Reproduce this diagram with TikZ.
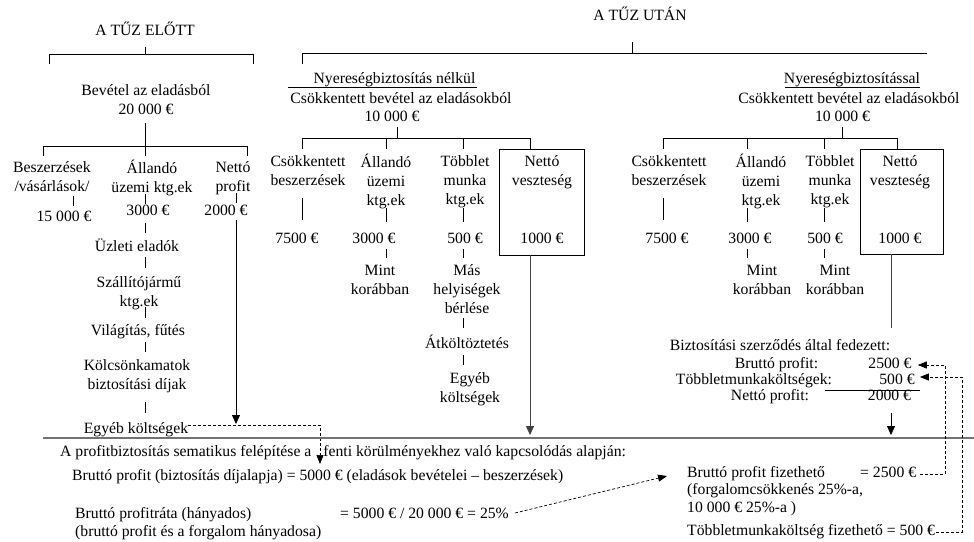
\documentclass[tikz,border=0pt]{standalone}
\usepackage{fontspec}
\setmainfont{Liberation Serif}
\usetikzlibrary{arrows.meta}
\begin{document}
\begin{tikzpicture}[x=1pt,y=-1pt,
  txt/.style={inner sep=0pt, font=\fontsize{15.7}{19}\selectfont, align=center, execute at begin node=\strut, execute at end node=\strut},
  ln/.style={line width=0.7pt},
  arr/.style={line width=0.8pt, -{Triangle[length=9pt,width=8pt]}},
  dsh/.style={line width=0.7pt, dash pattern=on 3pt off 2pt},
  dsharr/.style={dsh, -{Triangle[length=9pt,width=7pt]}},
  boxx/.style={draw, line width=0.8pt, inner sep=0pt},
  sep/.style={line width=1.6pt, black!55}
]
\useasboundingbox (0,0) rectangle (974,541);
\coordinate (xm) at (530,0);
\coordinate (xr) at (891,0);
% headings
\node[txt] (elott) at (145,32) {A TŰZ ELŐTT};
\node[txt] (utan) at (640,17) {A TŰZ UTÁN};
\draw[ln] (49,64) -- (49,54) -- (253,54) -- (253,64);
\draw[ln] (145,47) -- (145,54);
\draw[ln] (302,64) -- (302,53) -- (927,53);
\draw[ln] (632,42) -- (632,53);
% left section
\node[txt] (bev) at (146,102.5) {Bevétel az eladásból\\20~000~€};
\draw[ln] (145,123) -- (145,146);
\draw[ln] (43,156) -- (43,146) -- (247,146) -- (247,156);
\draw[ln] (145,146) -- (145,156);
\node[txt] (besz) at (52,179.5) {Beszerzések\\/vásárlások/};
\node[txt] (allu) at (152,179.5) {Állandó\\üzemi ktg.ek};
\node[txt] (netp) at (233,179.5) {Nettó\\profit};
\draw[ln] (73,196) -- (73,206);
\node[txt] (v15) at (64,218) {15~000~€};
\draw[ln] (145,194) -- (145,204);
\node[txt] (v3a) at (148,212) {3000~€};
\draw[ln] (236,193) -- (236,203);
\node[txt] (v2a) at (226,212) {2000~€};
\draw[ln] (145,223) -- (145,233);
\node[txt] (uzl) at (137,248) {Üzleti eladók};
\draw[ln] (145,257) -- (145,268);
\node[txt] (szal) at (139,294) {Szállítójármű\\ktg.ek};
\draw[ln] (145,307) -- (145,318);
\node[txt] (vil) at (138,332) {Világítás, fűtés};
\draw[ln] (145,342) -- (145,352);
\node[txt] (kolcs) at (137,377.5) {Kölcsönkamatok\\biztosítási díjak};
\draw[ln] (145,402) -- (145,413);
\node[txt] (egy1) at (136,430) {Egyéb költségek};
\draw[arr] (236,220) -- (236,424);
\draw[dsharr] ([yshift=5pt]egy1.east) -- (320,425) -- (320,464);
% separator
\draw[sep] (43,438) -- (974,438);
% middle section
\node[txt] (m0) at (394.5,80) {Nyereségbiztosítás nélkül};
\draw[ln] (288,87) -- (477,87);
\node[txt] (m1) at (401,100) {Csökkentett bevétel az eladásokból};
\node[txt] (m2) at (392,118) {10~000~€};
\draw[ln] (397,127) -- (397,138);
\draw[ln] (302,149) -- (302,138) -- (530,138) -- (530,149);
\draw[ln] (386,138) -- (386,149);
\draw[ln] (463,138) -- (463,149);
\node[boxx, minimum width=85pt, minimum height=106pt] (mbox) at (541.5,202) {};
\node[txt] (mnv) at (542,173) {Nettó\\veszteség};
\node[txt] (m1000) at (542,240) {1000~€};
\node[txt] (mcs) at (308,173) {Csökkentett\\beszerzések};
\draw[ln] (302,198) -- (302,220);
\node[txt] (m75) at (297,240) {7500~€};
\node[txt] (mall) at (386,183) {Állandó\\üzemi\\ktg.ek};
\draw[ln] (386,208) -- (386,222);
\node[txt] (m30) at (374,240) {3000~€};
\draw[ln] (386,249) -- (386,258);
\node[txt] (mmint) at (380,282.5) {Mint\\korábban};
\node[txt] (mtob) at (465,183) {Többlet\\munka\\ktg.ek};
\draw[ln] (463,208) -- (463,222);
\node[txt] (m500) at (465,240) {500~€};
\draw[ln] (463,249) -- (463,258);
\node[txt] (mmas) at (467,292) {Más\\helyiségek\\bérlése};
\draw[ln] (463,318) -- (463,328);
\node[txt] (matk) at (467,345) {Átköltöztetés};
\draw[ln] (463,355) -- (463,365);
\node[txt] (megy) at (470,390.5) {Egyéb\\költségek};
\draw[arr, black!75] (mbox.south -| xm) -- (530,435);
% right section
\node[txt] (r0) at (852,80) {Nyereségbiztosítással};
\draw[ln] (785,87) -- (920,87);
\node[txt] (r1) at (849,100) {Csökkentett bevétel az eladásokból};
\node[txt] (r2) at (842.5,118) {10~000~€};
\draw[ln] (842,127) -- (842,138);
\draw[ln] (663,149) -- (663,138) -- (897,138) -- (897,149);
\draw[ln] (747,138) -- (747,149);
\draw[ln] (824,138) -- (824,149);
\node[boxx, minimum width=83pt, minimum height=105pt] (rbox) at (901.5,201.5) {};
\node[txt] (rnv) at (900,173) {Nettó\\veszteség};
\node[txt] (r1000) at (900,240) {1000~€};
\node[txt] (rcs) at (669,173) {Csökkentett\\beszerzések};
\draw[ln] (663,198) -- (663,220);
\node[txt] (r75) at (667,240) {7500~€};
\node[txt] (rall) at (761,183) {Állandó\\üzemi\\ktg.ek};
\draw[ln] (747,208) -- (747,222);
\node[txt] (r30) at (750,240) {3000~€};
\draw[ln] (747,249) -- (747,258);
\node[txt] (rmint1) at (762,282.5) {Mint\\korábban};
\node[txt] (rtob) at (830,183) {Többlet\\munka\\ktg.ek};
\draw[ln] (824,208) -- (824,222);
\node[txt] (r500) at (825,240) {500~€};
\draw[ln] (824,249) -- (824,258);
\node[txt] (rmint2) at (835,282.5) {Mint\\korábban};
\draw[ln, black!75] (rbox.south -| xr) -- (891,328);
\node[txt] (biz) at (780,347) {Biztosítási szerződés által fedezett:};
\node[txt] (bp) at (776.5,365) {Bruttó profit:};
\node[txt] (bpv) at (890,365) {2500~€};
\node[txt] (tm) at (754,381) {Többletmunkaköltségek:};
\node[txt] (tmv) at (897,381) {500~€};
\draw[ln] (825,390) -- (920,390);
\node[txt] (np) at (770,397) {Nettó profit:};
\node[txt] (npv) at (889.5,397) {2000~€};
\draw[arr] (891,413) -- (891,435);
% bottom
\node[txt, anchor=west] (b1) at (60,453) {A profitbiztosítás sematikus felépítése a\hspace{12pt}fenti körülményekhez való kapcsolódás alapján:};
\node[txt, anchor=west] (b2) at (72,477) {Bruttó profit (biztosítás díjalapja) = 5000~€ (eladások bevételei – beszerzések)};
\node[txt, anchor=west] (b3) at (75,515) {Bruttó profitráta (hányados)};
\node[txt, anchor=west] (b4) at (340,515) {= 5000~€ / 20~000~€ = 25\%};
\node[txt, anchor=west] (b5) at (75,533) {(bruttó profit és a forgalom hányadosa)};
\node[txt, anchor=west] (c1) at (687,474) {Bruttó profit fizethető};
\node[txt, anchor=west] (c1v) at (860,474) {= 2500~€};
\node[txt, anchor=west] (c2) at (687,491) {(forgalomcsökkenés 25\%-a,};
\node[txt, anchor=west] (c3) at (687,509) {10~000~€ 25\%-a )};
\node[txt, anchor=west] (c4) at (687,532) {Többletmunkaköltség fizethető = 500~€};
\draw[dsharr] ([xshift=6pt,yshift=2pt]b4.east) -- ([xshift=-20pt,yshift=-2pt]c1.west);
\draw[dsharr] ([xshift=4pt]c1v.east) -- (945,474) -- (945,365) -- ([xshift=6pt]bpv.east);
\draw[dsharr] ([xshift=1pt]c4.east) -- (962,532) -- (962,377) -- ([xshift=5pt,yshift=4pt]tmv.east);
\end{tikzpicture}
\end{document}
